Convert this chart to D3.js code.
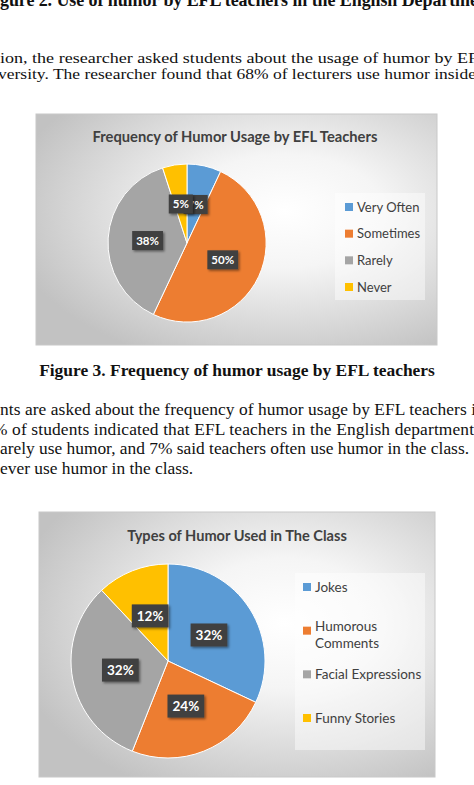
<!DOCTYPE html>
<html>
<head>
<meta charset="utf-8">
<script src="https://cdn.jsdelivr.net/npm/d3@7"></script>
<style>
  html, body { margin: 0; padding: 0; background: #fff; }
  svg { display: block; }
</style>
</head>
<body>
<div id="page"></div>
<script>
// chart data
var freqLabels = ["Very Often", "Sometimes", "Rarely", "Never"];
var freqValues = [7, 50, 38, 5];
var typeLabels = ["Jokes", "Humorous Comments", "Facial Expressions", "Funny Stories"];
var typeValues = [32, 24, 32, 12];
var sliceColors = ["#5B9BD5", "#ED7D31", "#A5A5A5", "#FFC000"];

var width = 474, height = 785;
var chartFont = "Lato, 'Open Sans', sans-serif";
var docFont = "'Liberation Serif', 'Times New Roman', serif";

var svg = d3.select("#page").append("svg")
    .attr("width", width)
    .attr("height", height);

var defs = svg.append("defs");
var shadow = defs.append("filter").attr("id", "lblShadow")
    .attr("x", "-30%").attr("y", "-30%").attr("width", "170%").attr("height", "170%");
shadow.append("feDropShadow")
    .attr("dx", 1.5).attr("dy", 1.5).attr("stdDeviation", 1.2)
    .attr("flood-color", "#000").attr("flood-opacity", 0.45);

// scale a text's font size so it spans a given width
function fitWidth(sel, target) {
    var w = sel.node().getComputedTextLength();
    var fs = parseFloat(sel.attr("font-size"));
    sel.attr("font-size", fs * target / w);
}

// ---- surrounding document text (cropped page) ----
var doc = svg.append("g").attr("font-family", docFont).attr("fill", "#111");

doc.append("text").attr("x", 0).attr("y", 6)
    .attr("font-size", 18).attr("font-weight", "bold")
    .attr("textLength", 478).attr("lengthAdjust", "spacing")
    .text("gure 2. Use of humor by EFL teachers in the English Departme");

var topLines = [
    { t: "ion, the researcher asked students about the usage of humor by EF", x: 0, y: 63, len: 478 },
    { t: "versity. The researcher found that 68% of lecturers use humor inside", x: -2, y: 79, len: 478 }
];
doc.selectAll(".topLine").data(topLines).enter().append("text")
    .attr("class", "topLine")
    .attr("x", function(d) { return d.x; })
    .attr("y", function(d) { return d.y; })
    .attr("font-size", 15)
    .attr("textLength", function(d) { return d.len; })
    .attr("lengthAdjust", "spacingAndGlyphs")
    .text(function(d) { return d.t; });

var cap = doc.append("text").attr("x", 237).attr("y", 376)
    .attr("text-anchor", "middle")
    .attr("font-size", 18).attr("font-weight", "bold")
    .text("Figure 3. Frequency of humor usage by EFL teachers");
fitWidth(cap, 396);

var bodyLines = [
    { t: "nts are asked about the frequency of humor usage by EFL teachers i", x: 0, y: 415, len: 476 },
    { t: "% of students indicated that EFL teachers in the English department", x: -7, y: 435, len: 481 },
    { t: "arely use humor, and 7% said teachers often use humor in the class.", x: 0, y: 454, len: 469 },
    { t: "ever use humor in the class.", x: 0, y: 474, len: null }
];
doc.selectAll(".bodyLine").data(bodyLines).enter().append("text")
    .attr("class", "bodyLine")
    .attr("x", function(d) { return d.x; })
    .attr("y", function(d) { return d.y; })
    .attr("font-size", 17.4)
    .each(function(d) {
        if (d.len) d3.select(this).attr("textLength", d.len).attr("lengthAdjust", "spacing");
    })
    .text(function(d) { return d.t; });

// ---- pie chart drawing ----
function drawPie(cfg) {
    var g = svg.append("g");

    var grad = defs.append("radialGradient").attr("id", cfg.id + "Bg")
        .attr("cx", "62%").attr("cy", "42%").attr("r", "70%");
    grad.append("stop").attr("offset", "0%").attr("stop-color", "#ffffff");
    grad.append("stop").attr("offset", "35%").attr("stop-color", "#f5f5f5");
    grad.append("stop").attr("offset", "100%").attr("stop-color", "#c2c2c2");

    g.append("rect")
        .attr("x", cfg.box[0]).attr("y", cfg.box[1])
        .attr("width", cfg.box[2]).attr("height", cfg.box[3])
        .attr("fill", "url(#" + cfg.id + "Bg)")
        .attr("stroke", "#c8c8c8").attr("stroke-width", 1);

    var title = g.append("text")
        .attr("x", cfg.titlePos[0]).attr("y", cfg.titlePos[1])
        .attr("text-anchor", "middle")
        .attr("font-family", chartFont).attr("font-weight", "bold")
        .attr("font-size", 15).attr("fill", "#404040")
        .text(cfg.title);
    fitWidth(title, cfg.titleWidth);

    var pie = d3.pie().sort(null).value(function(d) { return d; });
    var arcs = pie(cfg.values);
    var arc = d3.arc().innerRadius(0).outerRadius(cfg.r);

    var pg = g.append("g")
        .attr("transform", "translate(" + cfg.center[0] + "," + cfg.center[1] + ")");

    pg.selectAll("path").data(arcs).enter().append("path")
        .attr("d", arc)
        .attr("fill", function(d, i) { return sliceColors[i]; })
        .attr("stroke", "#ffffff").attr("stroke-width", 1);

    // data labels in dark boxes
    var lbl = pg.selectAll(".lbl").data(arcs).enter().append("g")
        .attr("class", "lbl")
        .attr("transform", function(d) { return "translate(" + arc.centroid(d) + ")"; });

    lbl.append("rect").attr("fill", "#404040").attr("filter", "url(#lblShadow)");
    lbl.append("text")
        .attr("text-anchor", "middle")
        .attr("dy", "0.36em")
        .attr("font-family", chartFont).attr("font-weight", "bold")
        .attr("font-size", cfg.labelSize).attr("fill", "#ffffff")
        .text(function(d) { return d.data + "%"; });
    lbl.each(function() {
        var t = d3.select(this).select("text").node().getComputedTextLength();
        var bw = t + cfg.labelPad * 2, bh = cfg.labelH;
        d3.select(this).select("rect")
            .attr("x", -bw / 2).attr("y", -bh / 2)
            .attr("width", bw).attr("height", bh);
    });

    // legend
    g.append("rect")
        .attr("x", cfg.legendBox[0]).attr("y", cfg.legendBox[1])
        .attr("width", cfg.legendBox[2]).attr("height", cfg.legendBox[3])
        .attr("fill", "#ffffff").attr("fill-opacity", 0.45);

    var rowY = d3.scalePoint().domain(cfg.labels).range(cfg.legendRows);
    var item = g.selectAll(".leg").data(cfg.labels).enter().append("g")
        .attr("class", "leg")
        .attr("transform", function(d) { return "translate(" + cfg.legendX + "," + rowY(d) + ")"; });

    item.append("rect")
        .attr("x", 0).attr("y", -4)
        .attr("width", 8).attr("height", 8)
        .attr("fill", function(d, i) { return sliceColors[i]; });

    item.append("text")
        .attr("x", 12)
        .attr("dy", "0.36em")
        .attr("font-family", chartFont)
        .attr("font-size", cfg.legendSize).attr("fill", "#404040")
        .each(function(d) {
            var t = d3.select(this);
            t.text(d);
            if (this.getComputedTextLength() <= cfg.legendMaxW) return;
            // wrap word by word
            t.text(null);
            var words = d.split(" "), line = [];
            var ts = t.append("tspan").attr("x", 12).attr("dy", 0);
            words.forEach(function(w) {
                line.push(w);
                ts.text(line.join(" "));
                if (ts.node().getComputedTextLength() > cfg.legendMaxW && line.length > 1) {
                    line.pop();
                    ts.text(line.join(" "));
                    line = [w];
                    ts = t.append("tspan").attr("x", 12).attr("dy", cfg.legendLineH).text(w);
                }
            });
        });
}

drawPie({
    id: "freq",
    box: [36, 114, 401, 231],
    title: "Frequency of Humor Usage by EFL Teachers",
    titlePos: [235, 142],
    titleWidth: 285,
    center: [187, 243],
    r: 79,
    labels: freqLabels,
    values: freqValues,
    labelSize: 11.5,
    labelPad: 4,
    labelH: 19,
    legendBox: [335, 193, 90, 107],
    legendX: 345,
    legendRows: [207, 287],
    legendSize: 13,
    legendMaxW: 80,
    legendLineH: 17
});

drawPie({
    id: "types",
    box: [39, 512, 396, 265],
    title: "Types of Humor Used in The Class",
    titlePos: [237, 541],
    titleWidth: 220,
    center: [168, 661],
    r: 97,
    labels: typeLabels,
    values: typeValues,
    labelSize: 13.5,
    labelPad: 5,
    labelH: 23,
    legendBox: [295, 573, 130, 177],
    legendX: 303,
    legendRows: [587, 718],
    legendSize: 13.5,
    legendMaxW: 114,
    legendLineH: 17
});
</script>
</body>
</html>
